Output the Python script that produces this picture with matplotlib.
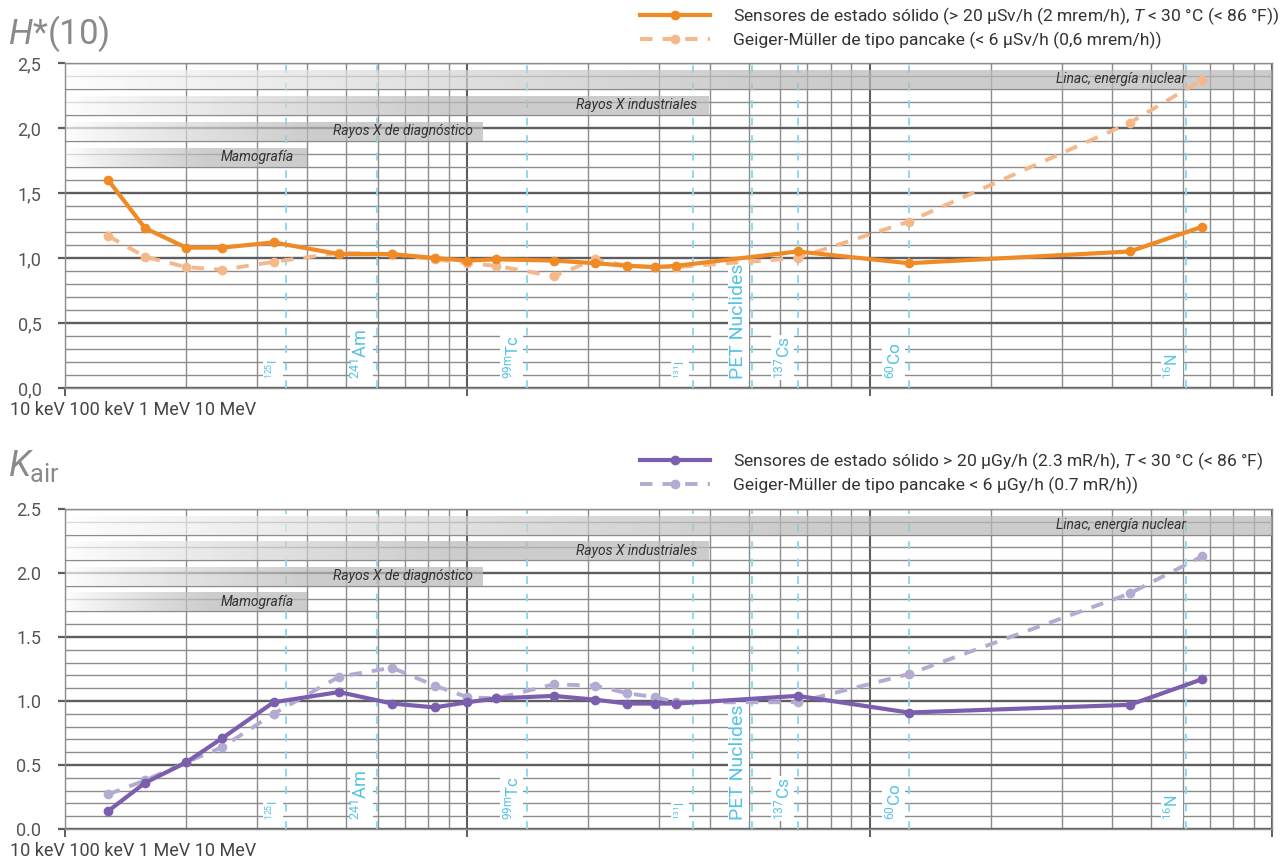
import matplotlib
matplotlib.use('Agg')
import matplotlib.pyplot as plt
import matplotlib.transforms as mtransforms
from matplotlib.colors import LinearSegmentedColormap
from matplotlib.ticker import MultipleLocator, LogLocator, NullFormatter
import numpy as np

plt.rcParams['font.family'] = ['Roboto', 'DejaVu Sans']
plt.rcParams['mathtext.fontset'] = 'custom'
plt.rcParams['mathtext.rm'] = 'Roboto'
plt.rcParams['mathtext.it'] = 'Roboto:italic'

# photon energy of the test points (keV)
energy_kev = [12.8, 15.8, 20, 24.6, 33, 48, 65, 83, 100, 118, 164, 208, 250,
              293, 331, 662, 1250, 4430, 6700]

# relative response, H*(10)
h10_solid = [1.60, 1.23, 1.08, 1.08, 1.12, 1.03, 1.03, 1.00, 0.98, 0.99, 0.98,
             0.96, 0.94, 0.93, 0.94, 1.05, 0.96, 1.05, 1.24]
h10_gm = [1.17, 1.01, 0.93, 0.91, 0.97, 1.04, 1.03, 0.99, 0.96, 0.94, 0.86,
          0.99, 0.94, 0.93, 0.93, 1.00, 1.28, 2.04, 2.37]

# relative response, K_air
kair_solid = [0.14, 0.36, 0.52, 0.71, 0.99, 1.07, 0.98, 0.95, 0.99, 1.02, 1.04,
              1.01, 0.98, 0.98, 0.98, 1.04, 0.91, 0.97, 1.17]
kair_gm = [0.27, 0.38, 0.52, 0.64, 0.90, 1.19, 1.26, 1.12, 1.03, 1.02, 1.13,
           1.12, 1.06, 1.03, 0.99, 0.99, 1.21, 1.84, 2.13]

h10_labels = ['Sensores de estado sólido (> 20 µSv/h (2 mrem/h), $T$ < 30 °C (< 86 °F))',
              'Geiger-Müller de tipo pancake (< 6 µSv/h (0,6 mrem/h))']
kair_labels = ['Sensores de estado sólido > 20 µGy/h (2.3 mR/h), $T$ < 30 °C (< 86 °F)',
               'Geiger-Müller de tipo pancake < 6 µGy/h (0.7 mR/h))']

h10_ticklabels = ['0,0', '0,5', '1,0', '1,5', '2,0', '2,5']
kair_ticklabels = ['0.0', '0.5', '1.0', '1.5', '2.0', '2.5']
ytick_values = [0.0, 0.5, 1.0, 1.5, 2.0, 2.5]

isotopes = ['$^{125}$I', '$^{241}$Am', '$^{99\\mathrm{m}}$Tc', '$^{131}$I',
            'PET Nuclides', '$^{137}$Cs', '$^{60}$Co', '$^{16}$N']
isotope_kev = [35.5, 59.5, 140.5, 364, 511, 662, 1250, 6130]
isotope_size = [9, 13, 12, 8.5, 14, 12.5, 12.5, 11.5]

ranges = ['Mamografía', 'Rayos X de diagnóstico', 'Rayos X industriales',
          'Linac, energía nuclear']
range_end_kev = [40, 110, 400, 10000]
range_label_kev = [37, 103, 373, 6100]
range_y = [(1.70, 1.85), (1.90, 2.05), (2.10, 2.25), (2.30, 2.45)]

axis_text = '10 keV 100 keV 1 MeV 10 MeV'

fade = LinearSegmentedColormap.from_list('fade', ['#ffffff', '#b9b9b9'])
cyan = '#55c3e3'
grid_major = '#5e5e5e'
grid_minor = '#8c8c8c'


def draw_panel(ax, solid, gm, labels, ticklabels, c_solid, c_gm):
    ax.set_xscale('log')
    ax.set_xlim(10, 10000)
    ax.set_ylim(0, 2.5)
    ax.set_autoscale_on(False)

    ax.set_yticks(ytick_values)
    ax.set_yticklabels(ticklabels)
    ax.yaxis.set_minor_locator(MultipleLocator(0.1))
    ax.xaxis.set_major_locator(LogLocator(base=10))
    ax.xaxis.set_minor_locator(LogLocator(base=10, subs=np.arange(2, 10)))
    ax.xaxis.set_minor_formatter(NullFormatter())
    ax.tick_params(axis='x', labelbottom=False, length=6, width=1.4, color=grid_major)
    ax.tick_params(axis='y', length=5, width=1.6, color=grid_major, pad=12,
                   labelsize=13, labelcolor='#555555')
    ax.tick_params(which='minor', length=0)

    ax.grid(which='major', axis='y', color=grid_major, lw=1.7, zorder=1)
    ax.grid(which='minor', axis='y', color=grid_minor, lw=1.0, zorder=1)
    ax.grid(which='major', axis='x', color=grid_major, lw=1.5, zorder=1)
    ax.grid(which='minor', axis='x', color=grid_minor, lw=1.0, zorder=1)
    ax.set_axisbelow(True)
    for s in ax.spines.values():
        s.set_color(grid_minor)
        s.set_linewidth(1.0)

    # isotope lines, label sits on a white patch left of the line
    for name, e, fs in zip(isotopes, isotope_kev, isotope_size):
        ax.axvline(e, color='#8fd8ee', lw=1.4, ls=(0, (4, 5)), zorder=1.5)
        ax.text(e / 1.03, 0.07, name, rotation=90, ha='right', va='bottom',
                color=cyan, fontsize=fs, zorder=3,
                bbox=dict(facecolor='white', edgecolor='none', pad=1.0))

    # application ranges, fading in from the left
    trans = mtransforms.blended_transform_factory(ax.transAxes, ax.transData)
    ramp = np.clip(np.linspace(0, 1, 256) / 0.6, 0, 1)[None, :] ** 0.8
    for name, end, lx, (y0, y1) in zip(ranges, range_end_kev, range_label_kev, range_y):
        x1 = np.log10(end / 10.0) / 3.0
        ax.imshow(ramp, cmap=fade, vmin=0, vmax=1, extent=(0, x1, y0, y1),
                  transform=trans, aspect='auto', interpolation='bilinear',
                  alpha=0.72, zorder=2)
        ax.text(lx, (y0 + y1) / 2, name, ha='right', va='center',
                fontsize=10, style='italic', color='#333333', zorder=3)

    l1, = ax.plot(energy_kev, solid, color=c_solid, lw=3, marker='o', ms=6,
                  solid_joinstyle='round', zorder=6, label=labels[0])
    l2, = ax.plot(energy_kev, gm, color=c_gm, lw=2.8, marker='o', ms=6,
                  ls=(0, (3.2, 2.6)), zorder=5, label=labels[1])
    return [l1, l2]


fig = plt.figure(figsize=(12.82, 8.68), dpi=100)
W, H = 1282.0, 868.0

ax1 = fig.add_axes([65 / W, 1 - 388 / H, 1207 / W, 325 / H])
ax2 = fig.add_axes([65 / W, 1 - 829 / H, 1207 / W, 320 / H])

h1 = draw_panel(ax1, h10_solid, h10_gm, h10_labels, h10_ticklabels, '#f08a24', '#f5b88a')
h2 = draw_panel(ax2, kair_solid, kair_gm, kair_labels, kair_ticklabels, '#7b5fae', '#b4abd2')

for handles, ytop in [(h1, 5), (h2, 450)]:
    fig.legend(handles=handles, loc='upper left',
               bbox_to_anchor=(640 / W, 1 - ytop / H), frameon=False,
               fontsize=12.6, handlelength=4.0, handletextpad=1.3,
               labelspacing=0.3, borderpad=0, borderaxespad=0,
               labelcolor='#333333', numpoints=1)

fig.text(8 / W, 1 - 34 / H, '$H$*(10)', fontsize=25, color='#8a8a8a',
         va='center', ha='left')
fig.text(8 / W, 1 - 466 / H, '$K_{\\mathrm{air}}$', fontsize=26, color='#8a8a8a',
         va='center', ha='left')
fig.text(10 / W, 1 - 410 / H, axis_text, fontsize=13, color='#444444',
         va='center', ha='left')
fig.text(10 / W, 1 - 851 / H, axis_text, fontsize=13, color='#444444',
         va='center', ha='left')

fig.savefig('out.png', dpi=100)
